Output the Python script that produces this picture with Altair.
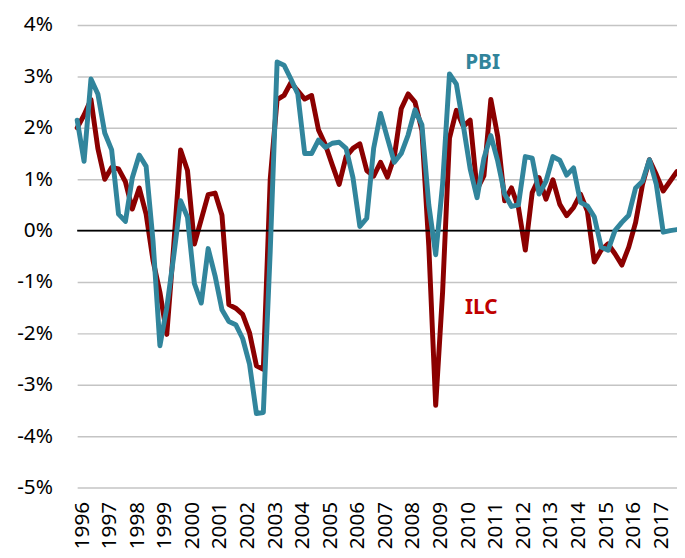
import altair as alt
import pandas as pd

years = list(range(1996, 2018))
quarter_t = [y + q / 4 for y in years for q in range(4)]

ilc = [2.0, 2.25, 2.55, 1.6, 1.0, 1.23, 1.2, 0.95, 0.42, 0.83, 0.32, -0.58,
       -1.2, -2.02, -0.3, 1.57, 1.17, -0.26, 0.22, 0.7, 0.73, 0.3, -1.44, -1.51,
       -1.63, -1.99, -2.63, -2.7, 1.0, 2.55, 2.63, 2.88, 2.72, 2.56, 2.63, 1.96,
       1.67, 1.28, 0.9, 1.44, 1.6, 1.69, 1.17, 1.06, 1.33, 1.04, 1.44, 2.37,
       2.66, 2.5, 1.95, -0.3, -3.4, -1.2, 1.8, 2.34, 2.03, 2.15, 0.8, 1.07,
       2.55, 1.83, 0.58, 0.83, 0.45, -0.38, 0.74, 1.03, 0.61, 0.99, 0.51, 0.29,
       0.45, 0.71, 0.38, -0.61, -0.38, -0.26, -0.45, -0.67, -0.32, 0.16, 0.9, 1.38,
       1.09, 0.77, 0.96, 1.15]

pbi = [2.15, 1.35, 2.95, 2.66, 1.9, 1.57, 0.32, 0.18, 1.03, 1.47, 1.25, -0.2,
       -2.24, -1.5, -0.5, 0.58, 0.26, -1.03, -1.41, -0.35, -0.88, -1.54, -1.77, -1.83,
       -2.1, -2.6, -3.56, -3.54, -0.4, 3.28, 3.22, 2.95, 2.66, 1.5, 1.5, 1.76,
       1.62, 1.7, 1.72, 1.6, 1.03, 0.08, 0.24, 1.6, 2.28, 1.8, 1.33, 1.5,
       1.86, 2.35, 2.06, 0.5, -0.47, 0.9, 3.05, 2.85, 2.05, 1.2, 0.64, 1.41,
       1.85, 1.35, 0.71, 0.47, 0.5, 1.44, 1.41, 0.71, 0.96, 1.44, 1.37, 1.08,
       1.22, 0.55, 0.48, 0.27, -0.32, -0.38, 0.0, 0.16, 0.3, 0.83, 0.96, 1.38,
       0.9, -0.03, 0.0, 0.02]

label_names = ["PBI", "ILC"]
label_t = [2010.7, 2010.65]
label_v = [3.27, -1.5]
label_colors = ["#31849B", "#C00000"]

y_ticks = list(range(-5, 5))

df_ilc = pd.DataFrame({"t": quarter_t, "value": ilc})
df_pbi = pd.DataFrame({"t": quarter_t, "value": pbi})
df_lab = pd.DataFrame({"t": label_t, "value": label_v, "name": label_names, "col": label_colors})

FONT = "Noto Sans"

x_scale = alt.Scale(domain=[1996, 2017.75], nice=False, zero=False)
y_scale = alt.Scale(domain=[-5, 4], nice=False, zero=False)

x_axis = alt.Axis(values=years, labelExpr="'' + datum.value", labelAngle=270, ticks=False,
                  domain=False, grid=False, labelFontSize=21, labelPadding=14, title=None,
                  labelAlign="right", labelBaseline="middle", labelFlush=False, labelOffset=5,
                  labelOverlap=False, labelColor="#000000", labelFont=FONT, tickCount=22)
y_axis = alt.Axis(values=y_ticks, labelExpr="datum.value + '%'", ticks=False, domain=False,
                  grid=True, gridColor="#C4C4C4", gridWidth=1.5, labelFontSize=21,
                  labelPadding=25, title=None, labelColor="#000000", labelFont=FONT,
                  labelOverlap=False)


def xe():
    return alt.X("t:Q", scale=x_scale, axis=x_axis)


def ye():
    return alt.Y("value:Q", scale=y_scale, axis=y_axis)


zero = alt.Chart(pd.DataFrame({"value": [0]})).mark_rule(color="#000000", strokeWidth=1.6).encode(
    y=ye()
)

line_ilc = alt.Chart(df_ilc).mark_line(color="#8B0000", strokeWidth=5, strokeJoin="round", strokeCap="round").encode(
    x=xe(), y=ye()
)
line_pbi = alt.Chart(df_pbi).mark_line(color="#31859C", strokeWidth=5, strokeJoin="round", strokeCap="round").encode(
    x=xe(), y=ye()
)
labels = alt.Chart(df_lab).mark_text(fontSize=21, fontWeight="bold", font=FONT).encode(
    x=xe(), y=ye(), text="name:N",
    color=alt.Color("col:N", scale=None)
)

chart = alt.layer(line_ilc, zero, line_pbi, labels).properties(
    width=607, height=468,
    autosize=alt.AutoSizeParams(type="none"),
    padding={"left": 70, "top": 14, "right": 0, "bottom": 64},
).configure_view(stroke=None)

chart.save("out.html", embed_options={"renderer": "svg", "actions": False})
